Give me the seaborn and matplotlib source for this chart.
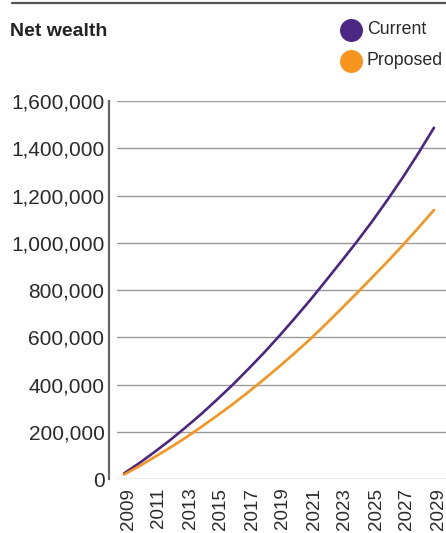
import matplotlib
matplotlib.use("Agg")
import matplotlib.pyplot as plt
from matplotlib.lines import Line2D
from matplotlib.ticker import FuncFormatter
from matplotlib.transforms import ScaledTranslation
import seaborn as sns
import pandas as pd

years = list(range(2009, 2030))
current = [25000, 69000, 117000, 167000, 221000, 277000, 337000, 399000, 465000,
           533000, 605000, 680000, 757000, 838000, 920000, 1003000, 1090000,
           1182000, 1278000, 1380000, 1487000]
proposed = [20000, 56000, 95000, 135000, 177000, 222000, 269000, 317000, 368000,
            421000, 476000, 533000, 592000, 655000, 720000, 786000, 853000,
            921000, 991000, 1064000, 1139000]
series_names = ["Current", "Proposed"]
colors = {"Current": "#4B2683", "Proposed": "#F7941D"}
yticks = [0, 200000, 400000, 600000, 800000, 1000000, 1200000, 1400000, 1600000]
xticks = list(range(2009, 2030, 2))

df = pd.DataFrame({
    "year": years * 2,
    "value": current + proposed,
    "series": ["Current"] * len(years) + ["Proposed"] * len(years),
})

sns.set_theme(style="white")
plt.rcParams["font.family"] = ["Liberation Sans", "DejaVu Sans"]

W, H = 446, 533
fig = plt.figure(figsize=(W / 100, H / 100), dpi=100)
ax = fig.add_axes([117 / W, 1 - 479.3 / H, (W - 117) / W, (479.3 - 101) / H])

sns.lineplot(data=df, x="year", y="value", hue="series", palette=colors,
             hue_order=series_names, linewidth=1.9, legend=False, ax=ax, zorder=3)

ax.set_xlim(2009 - 7 / 15.5, 2029 + 12 / 15.5)
ax.set_ylim(0, 1600000)
ax.set_xticks(xticks)
ax.set_yticks(yticks)
ax.yaxis.set_major_formatter(FuncFormatter(lambda v, p: f"{int(v):,}"))
ax.set_xlabel("")
ax.set_ylabel("")

ax.grid(axis="y", color="#9a9a9a", linewidth=1.0)
ax.grid(axis="x", visible=False)
for s in ["top", "right", "bottom"]:
    ax.spines[s].set_visible(False)
ax.spines["left"].set_position(("outward", 6))
ax.spines["left"].set_color("#666666")
ax.spines["left"].set_linewidth(1.6)

ax.tick_params(axis="y", length=0, pad=3, labelsize=15, labelcolor="#2a2a2a")
ax.tick_params(axis="x", length=0, pad=6, labelsize=13.5, labelcolor="#2a2a2a",
               labelrotation=90)
shift = ScaledTranslation(4 / 100, 0, fig.dpi_scale_trans)
for lab in ax.get_xticklabels():
    lab.set_transform(lab.get_transform() + shift)

# top rule
fig.add_artist(Line2D([12 / W, 1], [1 - 2.5 / H, 1 - 2.5 / H], transform=fig.transFigure,
                      color="#555555", linewidth=1.6))

fig.text(10 / W, 1 - 31 / H, "Net wealth", fontsize=14, fontweight="bold",
         color="#222222", va="center", ha="left")

for name, yc in zip(series_names, [30, 60.5]):
    fig.add_artist(Line2D([351 / W], [1 - yc / H], transform=fig.transFigure,
                          marker="o", markersize=15.5, color=colors[name], linestyle="none"))
    fig.text(367 / W, 1 - yc / H, name, fontsize=12.8, color="#2a2a2a",
             va="center", ha="left")

fig.savefig("out.png", dpi=100)
